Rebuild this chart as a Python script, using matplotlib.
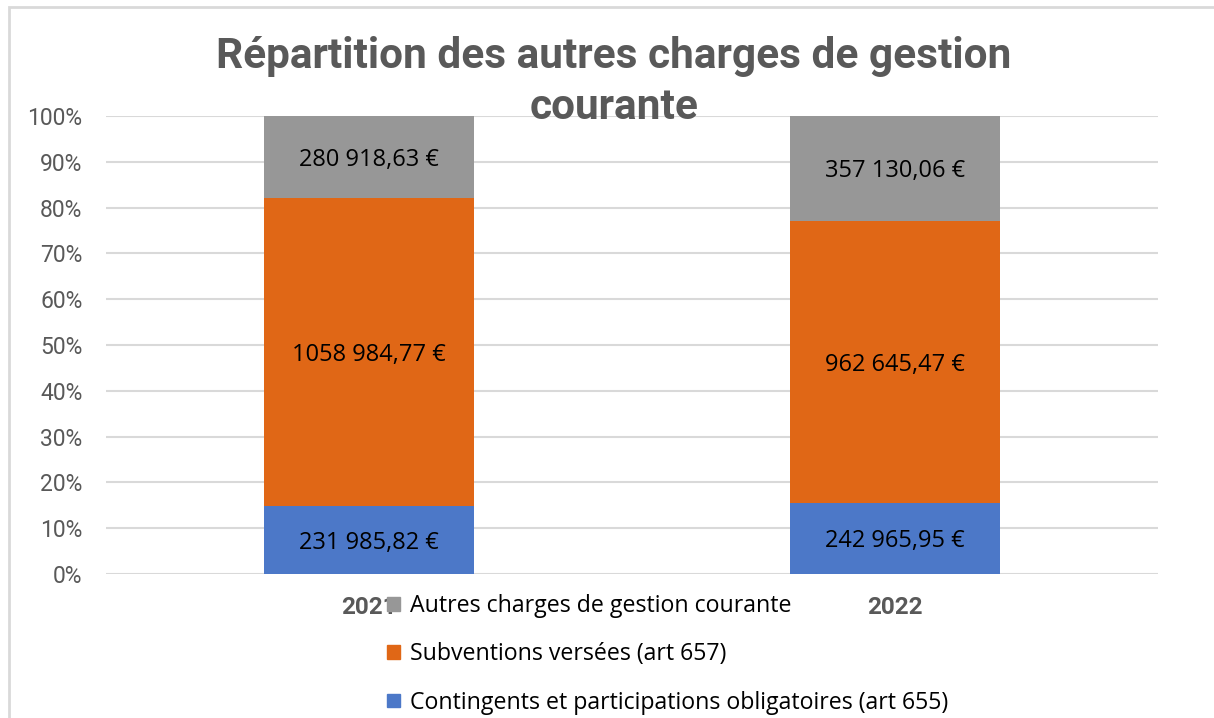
import matplotlib.pyplot as plt
from matplotlib.patches import Rectangle, Patch

# ── Données ──
annees = ["2021", "2022"]
series = [
    "Contingents et participations obligatoires (art 655)",
    "Subventions versées (art 657)",
    "Autres charges de gestion courante",
]
contingents = [231985.82, 242965.95]
subventions = [1058984.77, 962645.47]
autres = [280918.63, 357130.06]
couleurs = ["#4C78C8", "#E06716", "#979797"]


def fmt_euro(v):
    ent, dec = f"{v:.2f}".split(".")
    # groupe des milliers (sauf pour le premier bloc de 4 chiffres, comme dans Excel)
    if len(ent) > 6:
        ent = ent[:-6] + ent[-6:-3] + " " + ent[-3:]
    elif len(ent) > 3:
        ent = ent[:-3] + " " + ent[-3:]
    return f"{ent},{dec} €"


totaux = [a + b + c for a, b, c in zip(contingents, subventions, autres)]
valeurs = [contingents, subventions, autres]
parts = [[v / t * 100 for v, t in zip(serie, totaux)] for serie in valeurs]

fig = plt.figure(figsize=(12.14, 7.18), dpi=100)
ax = fig.add_axes([106 / 1214, 1 - 574 / 718, 1052 / 1214, 458 / 718])

x = range(len(annees))
bas = [0, 0]
for serie, pct, coul in zip(valeurs, parts, couleurs):
    ax.bar(x, pct, bottom=bas, width=0.4, color=coul, zorder=2)
    for i in x:
        ax.text(i, bas[i] + pct[i] / 2, fmt_euro(serie[i]), ha="center", va="center_baseline",
                fontsize=17, family="Open Sans", color="black", zorder=3)
    bas = [b + p for b, p in zip(bas, pct)]

ax.set_xlim(-0.5, 1.5)
ax.set_ylim(0, 100)
ax.set_yticks(range(0, 101, 10))
ax.set_yticklabels([f"{v}%" for v in range(0, 101, 10)])
ax.set_xticks(list(x))
ax.set_xticklabels(annees, fontweight="bold")
for lab in ax.get_yticklabels():
    lab.set_family("Roboto")
    lab.set_fontsize(16.5)
    lab.set_color("#595959")
for lab in ax.get_xticklabels():
    lab.set_family("Roboto")
    lab.set_fontsize(17.5)
    lab.set_color("#595959")
ax.tick_params(length=0)
ax.tick_params(axis="y", pad=17)
ax.tick_params(axis="x", pad=16)
ax.grid(axis="y", color="#D9D9D9", linewidth=1.5, zorder=0)
ax.set_axisbelow(True)
for s in ax.spines.values():
    s.set_visible(False)

fig.text(614 / 1214, 1 - 82 / 718, "Répartition des autres charges de gestion\ncourante",
         ha="center", va="center", fontsize=30.5, fontweight="bold", family="Roboto",
         color="#595959", linespacing=1.3, zorder=5)

poignees = [Patch(color=c) for c in couleurs[::-1]]
fig.legend(poignees, series[::-1], loc="upper left",
           bbox_to_anchor=(387 / 1214, 1 - 594 / 718), frameon=False,
           prop={"family": "Open Sans", "size": 16.7}, handlelength=0.55, handleheight=0.55,
           handletextpad=0.43, labelspacing=1.05, borderpad=0, borderaxespad=0)

# cadre du graphique
fig.add_artist(Rectangle((9 / 1214, -0.1), 1.2, 1 - 7 / 718 + 0.1, transform=fig.transFigure,
                         fill=False, edgecolor="#D9D9D9", linewidth=2))

fig.savefig("out.png", dpi=100)
